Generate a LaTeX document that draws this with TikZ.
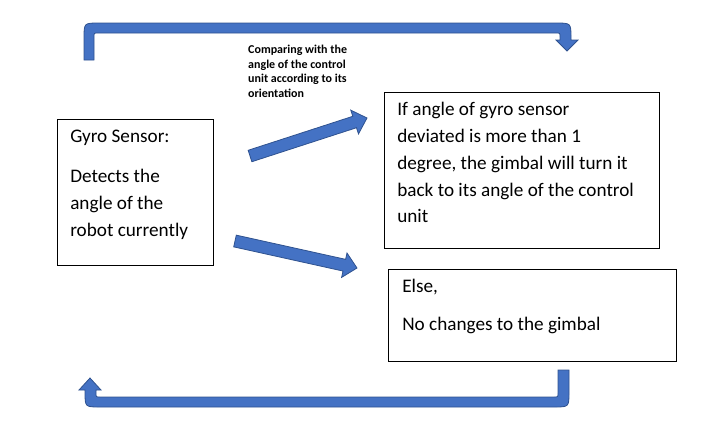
\documentclass[tikz,border=0pt]{standalone}
\usepackage{fontspec}
\setmainfont{Carlito}
\usepackage{tikz}
\usetikzlibrary{calc,positioning}
\definecolor{arrowblue}{HTML}{4472C4}
\definecolor{arrowedge}{HTML}{2F528F}
\newcommand{\blockarrow}[2]{%
  \coordinate (hb) at ($(#2)!13pt!(#1)$);
  \filldraw[block arrow] ($(#1)!6pt!90:(#2)$) -- ($(hb)!6pt!90:(#2)$)
    -- ($(hb)!12.5pt!90:(#2)$) -- (#2) -- ($(hb)!12.5pt!-90:(#2)$)
    -- ($(hb)!6pt!-90:(#2)$) -- ($(#1)!6pt!-90:(#2)$) -- cycle;
}

\begin{document}
\begin{tikzpicture}[x=1pt,y=-1pt,
  box/.style={draw,line width=1.6pt,anchor=north west,inner xsep=13pt,inner ysep=5pt,
    font=\fontsize{19.2}{26.7}\selectfont},
  block arrow/.style={fill=arrowblue,draw=arrowedge,line width=0.8pt},
  note/.style={anchor=north west,inner sep=0pt,align=left,
    font=\bfseries\fontsize{12}{14.6}\selectfont}]
    \useasboundingbox (0,0) rectangle (714,432);
    \node[box] (gyro) at (56.5,118.5) {\parbox[t][136pt][t]{130pt}{\raggedright\parskip=0pt
      \strut Gyro Sensor:\par\vspace{13.3pt}
      \strut Detects the\\angle of the\\robot currently}};
    \node[box] (turn) at (383.5,91.5) {\parbox[t][146pt][t]{249pt}{\raggedright\parskip=0pt
      \strut If angle of gyro sensor\\deviated is more than 1\\degree, the gimbal will turn it\\back to its angle of the control\\unit}};
    \node[box,inner xsep=14pt] (keep) at (387.5,268.5) {\parbox[t][82pt][t]{260pt}{\raggedright\parskip=0pt
      \strut Else,\par\vspace{10.8pt}
      \strut No changes to the gimbal}};
    \node[note] (compare) at (248,45) {Comparing with the\\angle of the control\\unit according to its\\orientation};
    \coordinate (up tail) at (250,156);
    \coordinate (up tip) at (367,118);
    \coordinate (down tail) at (235,241);
    \coordinate (down tip) at (357,268);
    \blockarrow{up tail}{up tip}
    \blockarrow{down tail}{down tip}
    \filldraw[block arrow] (84,60) -- (84,38) .. controls (84,23) .. (99,23) -- (556,23)
      .. controls (571,23) .. (571,38) -- (571,40) -- (578,40) -- (567,51) -- (556,40)
      -- (560,40) -- (560,37) .. controls (560,33) .. (556,33) -- (98,33)
      .. controls (94,33) .. (94,37) -- (94,60) -- cycle;
    \filldraw[block arrow] (558,370) -- (569,370) -- (569,392) .. controls (569,407) .. (554,407)
      -- (100,407) .. controls (85,407) .. (85,392) -- (85,390) -- (79,390) -- (90,378)
      -- (101,390) -- (96,390) -- (96,393) .. controls (96,397) .. (100,397) -- (554,397)
      .. controls (558,397) .. (558,393) -- cycle;
\end{tikzpicture}
\end{document}
